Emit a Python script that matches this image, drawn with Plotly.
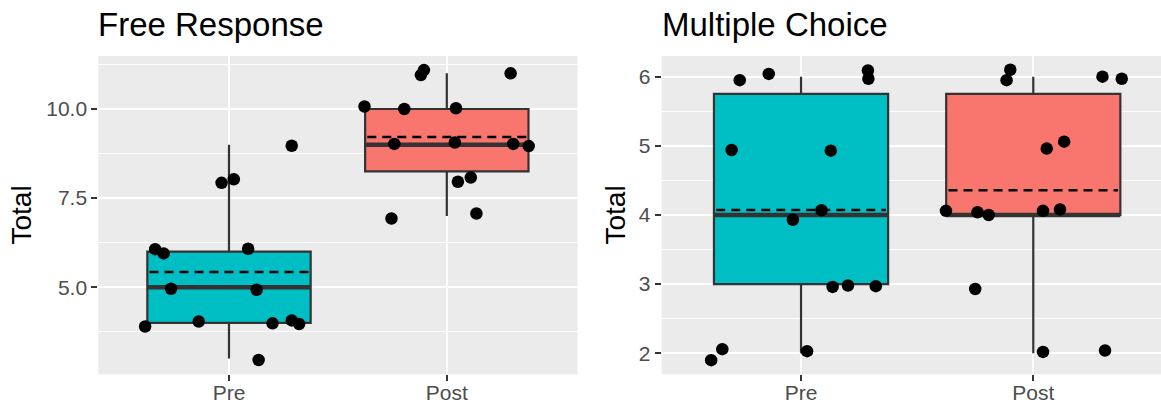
import numpy as np
import plotly.graph_objects as go

groups = ["Pre", "Post"]

# Free Response scores, with the horizontal / vertical jitter of each plotted point
fr_pre = [4, 6, 6, 5, 4, 8, 8, 6, 5, 3, 4, 9, 4, 4]
fr_pre_dx = [-0.385, -0.339, -0.300, -0.266, -0.139, -0.034, 0.022, 0.088, 0.127, 0.136, 0.200, 0.288, 0.288, 0.322]
fr_pre_dy = [-0.10, 0.07, -0.05, -0.04, 0.04, -0.07, 0.03, 0.08, -0.07, -0.04, -0.01, -0.03, 0.07, -0.03]

fr_post = [10, 7, 9, 10, 11, 11, 9, 10, 8, 8, 7, 11, 9, 9]
fr_post_dx = [-0.378, -0.254, -0.241, -0.195, -0.119, -0.105, 0.037, 0.042, 0.051, 0.110, 0.136, 0.293, 0.305, 0.376]
fr_post_dy = [0.07, -0.07, 0.02, 0.00, -0.05, 0.09, 0.06, 0.02, -0.04, 0.08, 0.07, 0.00, 0.02, -0.04]

# Multiple Choice scores and jitter
mc_pre = [2, 2, 5, 6, 6, 4, 2, 4, 5, 3, 3, 6, 6, 3]
mc_pre_dx = [-0.387, -0.339, -0.299, -0.264, -0.139, -0.035, 0.026, 0.088, 0.128, 0.136, 0.202, 0.288, 0.290, 0.322]
mc_pre_dy = [-0.10, 0.06, -0.06, -0.05, 0.04, -0.07, 0.03, 0.07, -0.07, -0.04, -0.02, 0.09, -0.03, -0.03]

mc_post = [4, 3, 4, 4, 6, 6, 2, 4, 5, 4, 5, 6, 2, 6]
mc_post_dx = [-0.376, -0.250, -0.240, -0.192, -0.115, -0.099, 0.042, 0.042, 0.058, 0.115, 0.133, 0.298, 0.309, 0.381]
mc_post_dy = [0.06, -0.07, 0.04, 0.00, -0.05, 0.10, 0.02, 0.06, -0.04, 0.08, 0.06, 0.00, 0.04, -0.03]

fills = {"Pre": "#00BFC4", "Post": "#F8766D"}
FONT = "Liberation Sans, Arial, sans-serif"
BOX_W = 0.75


def box_stats(values):
    v = np.asarray(values, dtype=float)
    q1, med, q3 = np.percentile(v, [25, 50, 75])
    iqr = q3 - q1
    lo = v[v >= q1 - 1.5 * iqr].min()
    hi = v[v <= q3 + 1.5 * iqr].max()
    return q1, med, q3, lo, hi, v.mean()


fig = go.Figure()


def add_group(pos, name, values, dx, dy, xa, ya):
    q1, med, q3, lo, hi, mean = box_stats(values)
    fig.add_trace(go.Box(
        x=[pos], q1=[q1], median=[med], q3=[q3], lowerfence=[lo], upperfence=[hi],
        width=BOX_W, whiskerwidth=0, fillcolor=fills[name],
        line=dict(color="#333333", width=2.2), boxpoints=False,
        showlegend=False, xaxis=xa, yaxis=ya, hoverinfo="skip",
    ))
    half = BOX_W / 2
    # thick median bar
    fig.add_trace(go.Scatter(
        x=[pos - half, pos + half], y=[med, med], mode="lines",
        line=dict(color="#333333", width=4.5), showlegend=False,
        xaxis=xa, yaxis=ya, hoverinfo="skip",
    ))
    # dashed mean line
    fig.add_trace(go.Scatter(
        x=[pos - half + 0.01, pos + half - 0.01], y=[mean, mean], mode="lines",
        line=dict(color="black", width=2.6, dash="9px,6px"), showlegend=False,
        xaxis=xa, yaxis=ya, hoverinfo="skip",
    ))
    # jittered observations
    fig.add_trace(go.Scatter(
        x=[pos + d for d in dx], y=[v + e for v, e in zip(values, dy)],
        mode="markers", marker=dict(color="black", size=12.5, line=dict(width=0)),
        showlegend=False, xaxis=xa, yaxis=ya,
    ))


add_group(0, "Pre", fr_pre, fr_pre_dx, fr_pre_dy, "x", "y")
add_group(1, "Post", fr_post, fr_post_dx, fr_post_dy, "x", "y")
add_group(0, "Pre", mc_pre, mc_pre_dx, mc_pre_dy, "x2", "y2")
add_group(1, "Post", mc_post, mc_post_dx, mc_post_dy, "x2", "y2")

W, H = 1161, 406
y_dom = [(H - 374.3) / H, (H - 56) / H]

common_x = dict(
    tickvals=[0, 1], ticktext=groups, showgrid=True, gridcolor="white", gridwidth=2,
    ticks="outside", ticklen=6, tickwidth=2, tickcolor="#333333",
    tickfont=dict(family=FONT, size=21, color="#4D4D4D"),
    zeroline=False, showline=False, fixedrange=True, ticklabelstandoff=-7,
    automargin=False,
)
common_y = dict(
    showgrid=True, gridcolor="white", gridwidth=2,
    ticks="outside", ticklen=6, tickwidth=2, tickcolor="#333333",
    tickfont=dict(family=FONT, size=21, color="#4D4D4D"),
    zeroline=False, showline=False, fixedrange=True, ticklabelstandoff=0,
    automargin=False, domain=y_dom,
)

fig.update_layout(
    width=W, height=H,
    margin=dict(l=0, r=0, t=0, b=0, autoexpand=False),
    paper_bgcolor="white", plot_bgcolor="#EBEBEB",
    xaxis=dict(common_x, domain=[98.3 / W, 577.5 / W], range=[-0.6, 1.6], anchor="y"),
    yaxis=dict(common_y, range=[2.56, 11.486], anchor="x",
               tickvals=[5, 7.5, 10], ticktext=["5.0", "7.5", "10.0"],
               minor=dict(tickvals=[3.75, 6.25, 8.75, 11.25], showgrid=True,
                          gridcolor="white", gridwidth=1, ticks="")),
    xaxis2=dict(common_x, domain=[661.7 / W, 1.0], range=[-0.6, 1.55], anchor="y2"),
    yaxis2=dict(common_y, range=[1.696, 6.299], anchor="x2",
                tickvals=[2, 3, 4, 5, 6], ticktext=["2", "3", "4", "5", "6"],
                minor=dict(tickvals=[2.5, 3.5, 4.5, 5.5], showgrid=True,
                           gridcolor="white", gridwidth=1, ticks="")),
    boxmode="overlay",
    annotations=[
        dict(text="Free Response", x=96 / W, y=(H - 25) / H, xref="paper", yref="paper",
             xanchor="left", yanchor="middle", showarrow=False,
             font=dict(family=FONT, size=33, color="black")),
        dict(text="Multiple Choice", x=660 / W, y=(H - 25) / H, xref="paper", yref="paper",
             xanchor="left", yanchor="middle", showarrow=False,
             font=dict(family=FONT, size=33, color="black")),
        dict(text="Total", x=21 / W, y=(H - 215.5) / H, xref="paper", yref="paper",
             xanchor="center", yanchor="middle", textangle=-90, showarrow=False,
             font=dict(family=FONT, size=28, color="black")),
        dict(text="Total", x=615 / W, y=(H - 215.5) / H, xref="paper", yref="paper",
             xanchor="center", yanchor="middle", textangle=-90, showarrow=False,
             font=dict(family=FONT, size=28, color="black")),
    ],
)

fig.write_html("out.html")
